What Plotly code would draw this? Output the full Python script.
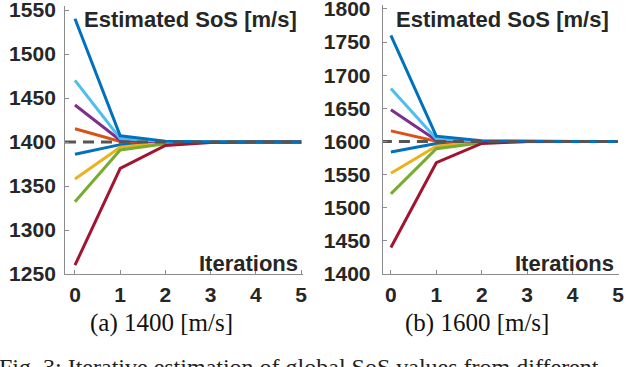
import plotly.graph_objects as go
from plotly.subplots import make_subplots

iterations = [0, 1, 2, 3, 4, 5]

# target 1400 m/s
sos_1400 = {
    "blue_hi": [1540, 1407, 1401, 1400, 1400, 1400],
    "lightblue": [1470, 1404, 1400.5, 1400, 1400, 1400],
    "purple": [1442, 1402, 1400, 1400, 1400, 1400],
    "orange": [1415, 1400.5, 1400, 1400, 1400, 1400],
    "blue_lo": [1386, 1397, 1400, 1400, 1400, 1400],
    "yellow": [1358, 1394, 1399.5, 1400, 1400, 1400],
    "green": [1332, 1391, 1398, 1400, 1400, 1400],
    "red": [1260, 1370, 1396, 1399.5, 1400, 1400],
}

# target 1600 m/s
sos_1600 = {
    "blue_hi": [1760, 1608, 1601, 1600, 1600, 1600],
    "lightblue": [1680, 1604, 1600.5, 1600, 1600, 1600],
    "purple": [1648, 1602, 1600, 1600, 1600, 1600],
    "orange": [1616, 1600.5, 1600, 1600, 1600, 1600],
    "blue_lo": [1584, 1597, 1600, 1600, 1600, 1600],
    "yellow": [1552, 1593, 1599.5, 1600, 1600, 1600],
    "green": [1521, 1589, 1598, 1600, 1600, 1600],
    "red": [1440, 1568, 1597, 1600, 1600, 1600],
}

true_sos = [1400, 1600]
ticks_1400 = [1250, 1300, 1350, 1400, 1450, 1500, 1550]
ticks_1600 = [1400, 1450, 1500, 1550, 1600, 1650, 1700, 1750, 1800]
captions = ["(a) 1400 [m/s]", "(b) 1600 [m/s]"]

colors = {
    "blue_hi": "#0072BD",
    "lightblue": "#4DBEEE",
    "purple": "#7E2F8E",
    "orange": "#D95319",
    "blue_lo": "#0072BD",
    "yellow": "#EDB120",
    "green": "#77AC30",
    "red": "#A2142F",
}

TXT = "#262626"
AX = "#8c8c8c"
SANS = "Liberation Sans"
SERIF = "Liberation Serif"

fig = make_subplots(rows=1, cols=2)

for col, (data, target) in enumerate(zip([sos_1400, sos_1600], true_sos), start=1):
    for key in ["blue_lo", "orange", "yellow", "purple", "green", "lightblue", "red", "blue_hi"]:
        fig.add_scatter(
            x=iterations, y=data[key], mode="lines",
            line=dict(color=colors[key], width=3), showlegend=False,
            row=1, col=col,
        )
    fig.add_scatter(
        x=[-0.22, 5], y=[target, target], mode="lines",
        line=dict(color="#555555", width=3, dash="11px,7px"), showlegend=False,
        row=1, col=col,
    )

axis_common = dict(
    showgrid=False, zeroline=False, showline=True, linecolor=AX, linewidth=1,
    ticks="inside", ticklen=4, tickcolor=AX, automargin=False,
    ticklabeloverflow="allow",
    tickfont=dict(family=SANS, size=21, color=TXT, weight="bold"),
)

fig.update_xaxes(**axis_common, tickvals=iterations, ticklabelstandoff=2)
fig.update_xaxes(domain=[0.1016, 0.4734], range=[-0.22, 5.04], row=1, col=1)
fig.update_xaxes(domain=[0.598, 0.967], range=[-0.18, 5.02], row=1, col=2)
fig.update_yaxes(**axis_common)
# axis line runs a little above the top tick, as in the source figure
fig.update_yaxes(domain=[0.2534, 0.9847], range=[1250, 1555], tickvals=ticks_1400,
                 ticklabelstandoff=4, row=1, col=1)
fig.update_yaxes(domain=[0.2534, 0.9864], range=[1400, 1806], tickvals=ticks_1600,
                 ticklabelstandoff=7, row=1, col=2)

annots = []
for xl, xr, cx, cap in [(0.128, 0.469, 0.2516, captions[0]), (0.6156, 0.9625, 0.7453, captions[1])]:
    annots.append(dict(
        x=xl, y=0.948, xref="paper", yref="paper", xanchor="left", yanchor="middle",
        text="Estimated SoS [m/s]", showarrow=False,
        font=dict(family=SANS, size=22, color=TXT, weight="bold"),
    ))
    annots.append(dict(
        x=xr, y=0.283, xref="paper", yref="paper", xanchor="right", yanchor="middle",
        text="Iterations", showarrow=False,
        font=dict(family=SANS, size=22, color=TXT, weight="bold"),
    ))
    annots.append(dict(
        x=cx, y=0.12, xref="paper", yref="paper", xanchor="center", yanchor="middle",
        text=cap, showarrow=False,
        font=dict(family=SERIF, size=25, color="#111111"),
    ))

annots.append(dict(
    x=-0.005, y=0.04, xref="paper", yref="paper", xanchor="left", yanchor="top",
    text="Fig. 3: Iterative estimation of global SoS values from different",
    showarrow=False, font=dict(family=SERIF, size=24, color="#222222"),
))

fig.update_layout(
    width=640, height=367, margin=dict(l=0, r=0, t=0, b=0),
    paper_bgcolor="white", plot_bgcolor="white", annotations=annots,
)

fig.write_html(
    "out.html",
    config={"displayModeBar": False},
    post_script="document.body.style.margin='0';",
)
